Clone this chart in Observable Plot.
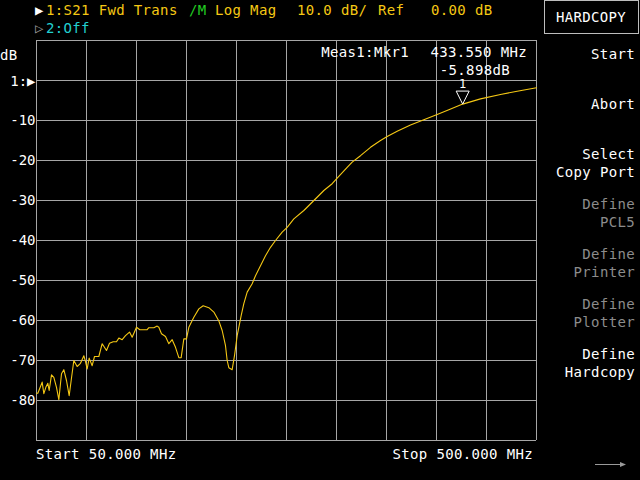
<!DOCTYPE html>
<html>
<head>
<meta charset="utf-8">
<script src="https://cdn.jsdelivr.net/npm/d3@7"></script>
<script src="https://cdn.jsdelivr.net/npm/@observablehq/plot@0.6"></script>
<style>
  html, body { margin: 0; padding: 0; background: #000; }
  svg text { font-family: "DejaVu Sans Mono", monospace; }
</style>
</head>
<body>
<div id="chart"></div>
<script>
// Trace data: S21 forward transmission (dB) vs frequency (MHz)
const freqMHz = [50.0, 51.2, 53.6, 55.1, 56.6, 58.4, 60.2, 61.4, 63.5, 65.6, 68.0, 70.1, 72.5, 74.6, 77.0, 79.4,
  81.2, 83.6, 86.6, 89.6, 92.6, 94.1, 95.6, 97.4, 100.1, 102.2, 106.1, 109.1, 113.0, 115.7, 119.0, 122.0,
  124.1, 127.1, 130.1, 133.7, 136.1, 140.0, 143.0, 149.6, 151.1, 155.6, 158.6, 160.1, 162.5, 166.1, 169.1,
  172.1, 175.1, 178.1, 180.2, 182.6, 185.0, 187.1, 191.6, 196.1, 200.0, 205.1, 209.6, 214.1, 217.1, 220.1,
  221.6, 223.1, 226.1, 228.2, 230.6, 234.2, 236.6, 239.6, 244.1, 247.1, 251.6, 256.1, 260.6, 265.1, 271.1,
  275.6, 281.6, 290.6, 299.6, 308.6, 316.1, 320.6, 329.6, 334.1, 341.6, 350.6, 359.6, 365.6, 374.6, 386.6,
  398.6, 410.6, 421.1, 433.6, 449.6, 467.6, 482.6, 500.0];
const s21dB = [-78.2, -78.2, -76.5, -75.4, -78.3, -76.7, -75.7, -77.5, -73.6, -74.2, -76.7, -79.8, -73.3, -72.3, -75.0, -78.8,
  -75.0, -70.0, -71.5, -70.7, -68.8, -70.3, -72.1, -69.4, -71.3, -69.0, -69.0, -65.8, -67.5, -65.7, -65.3, -65.3,
  -64.4, -64.8, -63.8, -62.9, -64.2, -61.7, -62.3, -62.3, -61.8, -61.8, -61.4, -61.7, -63.3, -64.0, -65.8,
  -64.8, -66.7, -69.3, -69.3, -64.6, -64.6, -61.7, -59.2, -57.1, -56.3, -56.8, -57.9, -60.1, -62.5, -66.3,
  -70.0, -71.8, -72.3, -68.8, -63.8, -58.8, -55.8, -52.9, -50.8, -48.8, -46.3, -43.8, -41.7, -40.0, -37.9,
  -36.7, -34.6, -32.5, -30.0, -27.5, -25.8, -24.4, -21.7, -20.4, -18.8, -16.7, -15.0, -14.0, -12.7, -11.1,
  -9.8, -8.5, -7.3, -5.9, -4.6, -3.5, -2.7, -1.8];

const xGrid = [50, 95, 140, 185, 230, 275, 320, 365, 410, 455, 500];
const yGrid = [10, 0, -10, -20, -30, -40, -50, -60, -70, -80, -90];
const yLabels = [-10, -20, -30, -40, -50, -60, -70, -80];
const markerFreq = [433.55];
const markerDB = [-5.898];

const menuItems = [
  {lines: ["Start"], color: "#ffffff", y: 59},
  {lines: ["Abort"], color: "#ffffff", y: 109},
  {lines: ["Select", "Copy Port"], color: "#ffffff", y: 159},
  {lines: ["Define", "PCL5"], color: "#8c8c8c", y: 209},
  {lines: ["Define", "Printer"], color: "#8c8c8c", y: 259},
  {lines: ["Define", "Plotter"], color: "#8c8c8c", y: 309},
  {lines: ["Define", "Hardcopy"], color: "#ffffff", y: 359}
];

const trace = freqMHz.map((f, i) => ({f, db: s21dB[i]}));
const marker = markerFreq.map((f, i) => ({f, db: markerDB[i]}));

const FONT = "DejaVu Sans Mono";
const YELLOW = "#f5c814";
const GRID = "#a6a6a6";

const markerSymbol = {
  draw(ctx) {
    ctx.moveTo(0, 0);
    ctx.lineTo(-6.5, -13);
    ctx.lineTo(6.5, -13);
    ctx.closePath();
  }
};

const chart = Plot.plot({
  width: 640,
  height: 480,
  marginLeft: 36,
  marginRight: 104,
  marginTop: 40,
  marginBottom: 40,
  style: {background: "#000", color: "#fff", fontFamily: FONT},
  x: {domain: [50, 500], axis: null},
  y: {domain: [-90, 10], axis: null},
  marks: [
    Plot.ruleX(xGrid, {stroke: GRID, strokeWidth: 1}),
    Plot.ruleY(yGrid, {stroke: GRID, strokeWidth: 1}),
    Plot.line(trace, {x: "f", y: "db", stroke: YELLOW, strokeWidth: 1.1, curve: "linear"}),
    Plot.text(yLabels, {x: () => 50, y: d => d, text: d => "-" + Math.abs(d), textAnchor: "end", dx: -1,
      fill: "#fff", fontSize: 14, fontFamily: FONT}),
    Plot.text([0], {x: () => 50, y: d => d, text: () => "1:▶", textAnchor: "end", dx: -1, dy: 1,
      fill: "#fff", fontSize: 14, fontFamily: FONT}),
    Plot.dot(marker, {x: "f", y: "db", symbol: markerSymbol, r: 5, stroke: "#fff", fill: "none", strokeWidth: 1}),
    Plot.text(marker, {x: "f", y: "db", text: () => "1", dy: -20, fill: "#fff", fontSize: 12, fontFamily: FONT})
  ]
});

const svg = d3.select(chart);
function txt(x, y, s, color, anchor = "start", size = 14) {
  svg.append("text")
    .attr("x", x).attr("y", y)
    .attr("fill", color)
    .attr("font-family", FONT)
    .attr("font-size", size)
    .attr("letter-spacing", "0.35px")
    .attr("text-anchor", anchor)
    .attr("xml:space", "preserve")
    .text(s);
}

// header
txt(35, 15, "▶", "#ffffff");
txt(46, 15, "1:S21 Fwd Trans", YELLOW);
txt(189, 15, "/M", "#22cc22");
txt(215, 15, "Log Mag", YELLOW);
txt(297, 15, "10.0 dB/", YELLOW);
txt(378, 15, "Ref", YELLOW);
txt(431, 15, "0.00 dB", YELLOW);
txt(35, 33, "▷", "#9a9a9a");
txt(46, 33, "2:Off", "#22d0d0");

// y unit
txt(0, 60, "dB", "#ffffff");

// marker readout
txt(409, 57, "Meas1:Mkr1", "#ffffff", "end");
txt(527, 57, "433.550 MHz", "#ffffff", "end");
txt(510, 75, "-5.898dB", "#ffffff", "end");

// bottom annotations
txt(36, 459, "Start 50.000 MHz", "#ffffff");
txt(533, 459, "Stop 500.000 MHz", "#ffffff", "end");

// right softkey menu
svg.append("rect").attr("x", 544.5).attr("y", 0.5).attr("width", 94).attr("height", 33)
  .attr("fill", "none").attr("stroke", "#bdbdbd").attr("stroke-width", 1);
txt(591, 22, "HARDCOPY", "#ffffff", "middle");
menuItems.forEach(m => {
  m.lines.forEach((line, i) => txt(635, m.y + i * 18, line, m.color, "end"));
});

// more-arrow at bottom right
svg.append("line").attr("x1", 595).attr("y1", 464.5).attr("x2", 624).attr("y2", 464.5)
  .attr("stroke", "#9a9a9a").attr("stroke-width", 1);
svg.append("path").attr("d", "M620,462 L626,464.5 L620,467 Z").attr("fill", "#9a9a9a");

document.getElementById("chart").appendChild(chart);
</script>
</body>
</html>
